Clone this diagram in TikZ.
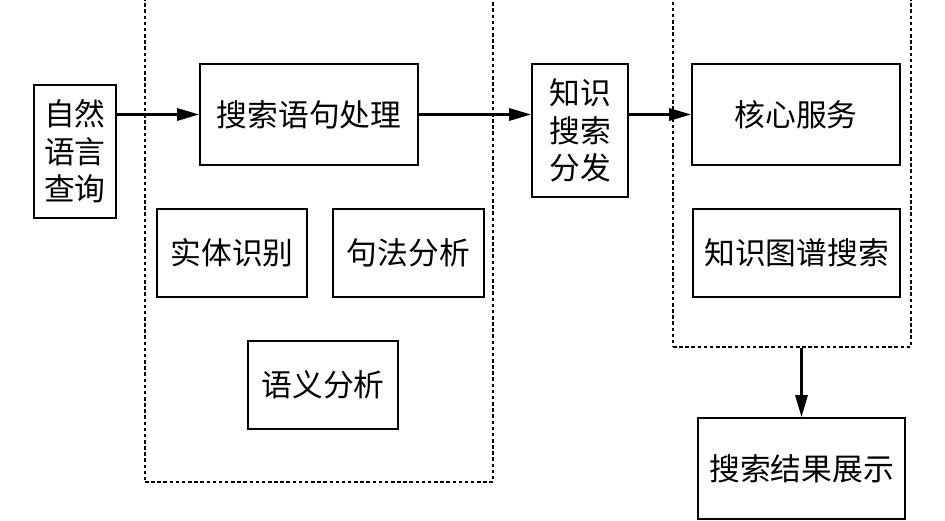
\documentclass[tikz,border=0pt]{standalone}
\usepackage{fontspec}
\newfontfamily\cjk{Noto Sans CJK SC}
\usepackage{tikz}
\usetikzlibrary{arrows.meta, positioning}

\begin{document}
\begin{tikzpicture}[
  block/.style={rectangle, draw, line width=1.1pt, align=center, inner sep=0pt,
    font=\cjk\fontsize{17.5}{21.3}\selectfont},
  group/.style={rectangle, draw, line width=1pt, dash pattern=on 2pt off 1.5pt, inner sep=0pt},
  link/.style={draw, line width=1.3pt, -{Triangle[length=12.5pt, width=7pt]}}
]
\useasboundingbox (0,0) rectangle (18.9,10.42);

% Groups
\node[group, minimum width=6.96cm, minimum height=9.82cm] (lbox) at (6.38,5.69) {};
\node[group, minimum width=4.76cm, minimum height=7.12cm] (rbox) at (15.84,7.04) {};

% Nodes
\node[block, minimum width=1.64cm, minimum height=2.66cm] (query) at (1.5,7.39) {自然\\语言\\查询};
\node[block, minimum width=4.36cm, minimum height=2.02cm] (parse) at (6.18,8.13) {搜索语句处理};
\node[block, minimum width=3cm, minimum height=1.76cm] (ner) at (4.64,5.36) {实体识别};
\node[block, minimum width=3.02cm, minimum height=1.76cm, right=0.48cm of ner] (syntax) {句法分析};
\node[block, minimum width=3cm, minimum height=1.76cm] (sem) at (6.46,2.72) {语义分析};

\node[block, minimum width=1.92cm, minimum height=2.66cm] (dispatch) at (11.6,7.81) {知识\\搜索\\分发};
\node[block, minimum width=4.16cm, minimum height=2.02cm] (core) at (15.92,8.13) {核心服务};
\node[block, minimum width=4.14cm, minimum height=1.76cm] (kgsearch) at (15.93,5.36) {知识图谱搜索};
\node[block, minimum width=4.14cm, minimum height=2.02cm] (result) at (16.03,1.05) {搜索结果展示};

% Connections
\draw[link] (query.east |- parse.west) -- (parse.west);
\draw[link] (parse.east) -- (parse.east -| dispatch.west);
\draw[link] (dispatch.east |- core.west) -- (core.west);
\draw[link] (result.north |- rbox.south) -- (result.north);

\end{tikzpicture}
\end{document}
